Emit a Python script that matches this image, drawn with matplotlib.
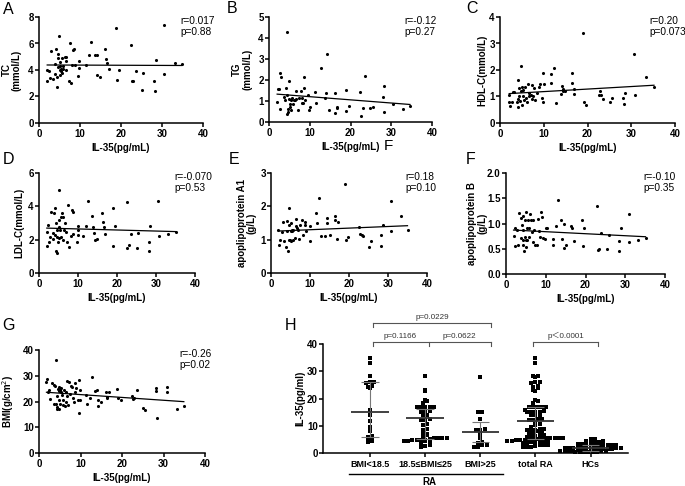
import numpy as np
import matplotlib
matplotlib.use("Agg")
import matplotlib.pyplot as plt

plt.rcParams['font.family'] = ['Liberation Sans', 'DejaVu Sans', 'Noto Sans CJK SC']

# ---------------- data ----------------
A_x = [2.0,2.0,2.4,2.9,2.7,3.5,3.9,4.1,3.9,4.3,4.5,4.7,4.7,4.9,5.0,5.1,5.2,5.3,5.5,5.7,5.9,6.3,6.6,6.7,6.7,7.2,7.6,7.7,8.0,8.4,8.5,8.8,9.6,9.7,9.8,11.5,12.3,12.7,13.7,14.1,14.2,14.9,16.2,16.3,16.7,17.0,18.9,19.1,19.5,22.4,22.7,23.0,23.6,25.0,25.4,28.0,28.2,28.5,30.5,30.6,33.2,34.8,4.6,5.0,5.4,5.8]
A_y = [4.0,3.2,3.9,5.45,3.4,3.3,4.45,5.6,3.7,2.75,3.5,5.2,4.9,6.6,4.0,4.3,4.6,4.1,4.9,3.8,4.3,5.0,4.95,4.7,4.0,3.2,6.0,3.05,4.4,5.5,5.6,4.35,3.55,4.15,4.7,4.4,5.15,6.1,5.15,5.1,3.65,3.5,5.6,4.8,4.55,4.1,7.2,3.25,3.97,5.85,3.15,3.15,3.95,2.5,3.8,3.2,2.4,4.75,7.4,3.7,4.5,4.45,4.2,3.6,3.9,4.1]

B_x = [2.0,2.2,2.5,2.8,3.0,2.8,3.7,3.9,4.1,4.3,4.3,4.5,4.7,4.7,4.8,4.9,5.1,5.2,5.3,5.5,5.7,5.9,6.1,6.3,6.6,6.7,7.0,7.3,7.8,8.0,8.1,8.4,8.5,8.5,8.8,9.6,9.9,10.0,11.4,11.5,12.7,13.7,14.0,14.3,14.7,16.2,16.2,16.7,16.8,18.9,19.0,19.6,22.3,22.6,23.0,23.6,24.8,25.4,27.9,28.1,28.3,30.5,33.0,34.6]
B_y = [0.93,1.55,1.55,2.35,2.12,0.64,1.2,1.07,1.6,1.28,0.4,4.28,0.48,0.64,1.09,1.97,0.88,0.72,0.56,1.04,1.12,0.88,1.04,1.07,1.09,1.49,0.59,1.15,1.49,0.91,1.12,0.91,2.12,1.6,1.07,1.28,0.56,0.72,1.41,0.91,2.57,1.15,1.36,3.24,0.59,1.39,0.43,0.72,0.67,1.52,0.53,0.75,1.44,0.27,0.69,2.2,0.69,0.72,1.17,0.48,1.71,0.85,0.61,0.75]

C_x = [2.1,2.1,2.3,2.7,2.9,3.3,3.8,4.0,4.2,4.2,4.3,4.4,4.6,4.7,4.8,5.0,5.0,5.2,5.3,5.5,5.7,5.9,6.1,6.3,6.6,6.7,7.1,7.2,7.4,7.6,7.8,8.0,8.4,8.8,9.1,9.7,9.9,9.9,10.1,11.6,11.7,12.4,12.8,13.9,14.1,14.3,14.5,14.9,16.4,16.4,16.8,17.0,19.0,19.2,19.7,22.6,22.9,23.0,23.6,25.1,25.7,28.2,28.3,28.6,30.7,30.9,33.3,35.2]
C_y = [1.06,0.78,0.65,0.81,1.16,1.16,0.78,0.9,1.62,0.62,1.31,1.0,0.84,1.19,2.16,1.35,0.69,1.0,1.25,0.88,1.35,0.94,0.81,1.48,1.0,1.12,1.06,1.44,0.9,1.0,1.31,0.88,1.12,1.35,1.48,0.94,0.81,1.88,1.48,1.85,1.5,2.06,0.75,1.09,1.4,1.28,1.22,1.19,1.88,1.52,1.09,1.28,3.38,0.81,0.69,1.06,1.19,1.04,0.9,0.81,0.94,0.94,0.71,1.15,2.6,1.04,1.73,1.35]

D_x = [2.0,2.0,2.2,2.6,2.8,3.1,3.5,3.7,3.9,4.1,4.1,4.4,4.4,4.5,4.5,4.7,4.8,5.0,5.0,5.1,5.2,5.4,5.6,5.6,5.8,6.1,6.2,6.4,6.7,6.9,7.1,7.5,7.7,8.1,8.4,8.6,8.8,9.7,9.9,10.1,10.1,11.4,12.0,12.6,13.5,13.9,14.2,14.4,14.8,16.1,16.3,16.7,16.9,19.1,19.1,19.5,22.5,22.6,23.1,23.6,25.0,25.5,28.2,28.3,28.5,30.6,30.8,33.2,35.0]
D_y = [1.63,2.48,2.88,1.89,2.15,3.68,2.43,2.03,3.58,3.88,2.29,3.02,1.35,1.23,2.15,2.58,1.89,4.97,3.18,2.78,2.09,2.58,3.38,2.19,3.62,3.34,1.99,2.58,2.98,2.48,1.89,4.08,1.55,2.23,3.78,2.33,3.68,1.89,2.82,2.58,2.29,2.23,2.82,4.33,3.42,2.78,2.39,1.99,2.03,3.58,3.08,2.78,2.35,3.88,1.63,2.82,4.27,1.49,1.69,2.35,1.49,2.43,1.85,1.3,2.85,4.33,2.2,2.35,2.45]

E_x = [1.9,2.1,2.3,2.7,3.2,3.4,3.8,4.0,4.2,4.3,4.5,4.6,4.7,4.9,5.0,5.1,5.1,5.3,5.5,5.7,5.7,6.2,6.3,6.4,6.6,6.9,7.2,7.5,7.9,8.3,8.6,8.7,9.0,9.9,10.0,11.6,11.7,12.4,12.8,13.9,14.3,14.3,15.2,16.4,16.4,16.9,17.1,19.0,19.3,19.7,22.6,22.9,23.3,23.6,25.2,25.7,28.3,28.3,28.6,30.7,30.8,33.3,35.0]
E_y = [1.3,0.85,0.98,1.22,1.52,0.97,0.78,1.55,1.25,0.65,1.45,1.0,1.95,1.0,1.27,1.5,0.95,1.28,1.25,1.0,1.3,1.05,1.62,1.4,1.35,1.3,1.03,1.45,1.58,1.15,1.52,1.45,1.25,0.95,1.42,1.8,1.5,2.25,1.12,1.12,1.65,1.5,1.13,1.72,1.58,1.03,1.52,2.68,0.98,1.07,1.37,1.18,1.15,1.1,0.78,0.95,1.15,0.82,1.45,2.15,1.25,1.7,1.3]

F_x = [1.9,2.2,2.3,2.8,3.0,3.3,3.8,3.8,4.0,4.2,4.3,4.4,4.4,4.6,4.7,4.9,5.0,5.0,5.1,5.3,5.4,5.5,5.7,5.9,6.1,6.2,6.5,6.7,6.8,7.1,7.4,7.8,8.0,8.4,8.6,8.8,9.0,9.2,9.9,10.0,10.3,11.7,11.8,12.6,13.1,13.9,14.2,14.5,14.5,15.1,16.4,16.7,17.2,19.1,19.3,19.7,22.8,23.1,23.4,23.9,25.4,25.8,28.5,28.5,28.9,31.0,31.0,33.3,35.1]
F_y = [0.75,0.56,0.91,0.87,0.58,1.2,1.1,0.71,0.97,0.87,0.68,1.15,0.58,0.46,0.73,1.07,1.22,0.68,0.54,0.91,0.68,1.07,0.74,0.91,1.19,1.06,0.84,1.06,0.63,0.87,0.58,0.58,1.09,0.86,0.73,1.22,1.13,0.71,0.69,0.91,0.91,0.69,0.58,0.96,1.47,1.06,0.7,0.99,0.51,0.58,0.96,0.91,0.66,1.06,0.56,0.92,1.35,0.48,0.49,0.81,0.49,0.77,0.66,0.46,0.91,1.19,0.64,0.68,0.71]

G_x = [1.8,2.0,2.1,2.5,2.7,3.1,3.5,3.6,3.9,4.0,4.1,4.3,4.3,4.4,4.5,4.7,4.7,4.8,4.9,5.1,5.1,5.2,5.3,5.5,5.7,5.9,6.1,6.3,6.4,6.5,6.7,6.8,7.1,7.3,7.5,7.7,7.9,8.1,8.4,8.7,8.7,8.9,9.5,9.6,9.7,9.9,9.9,11.3,11.5,12.3,12.7,13.5,13.9,14.1,14.1,14.9,16.1,16.3,16.5,16.9,18.9,19.1,19.7,22.3,22.6,23.0,23.7,25.0,25.5,28.1,28.2,28.5,30.8,30.8,33.2,34.9]
G_y = [27.4,28.6,23.5,24.3,20.9,27.1,26.5,19.1,26.1,19.1,36.1,22.2,17.8,17.0,24.8,20.6,17.0,25.5,23.9,24.3,19.1,25.2,23.5,22.6,20.4,18.7,24.5,18.3,20.0,23.5,28.1,22.2,18.7,27.4,23.0,26.1,25.8,21.3,20.0,27.1,23.5,25.2,20.6,15.5,28.4,24.5,20.6,22.6,19.1,21.3,29.4,23.9,24.3,20.6,18.3,20.0,23.5,21.7,21.3,23.5,24.8,21.3,20.4,22.2,20.9,21.3,24.3,17.4,16.8,25.2,23.9,13.5,25.5,23.5,17.0,18.3]

r_texts = ["r=0.017", "r=-0.12", "r=0.20", "r=-0.070", "r=0.18", "r=-0.10", "r=-0.26"]
p_texts = ["p=0.88", "p=0.27", "p=0.073", "p=0.53", "p=0.10", "p=0.35", "p=0.02"]
y_labels = ["TC\n(mmol/L)", "TG\n(mmol/L)", "HDL-C(mmol/L)", "LDL-C(mmol/L)",
            "apoplipoprotein A1\n(g/L)", "apoplipoprotein B\n(g/L)", "BMI(g/cm$^2$)"]
y_tick_values = [[0, 2, 4, 6, 8], [0, 1, 2, 3, 4, 5], [0, 1, 2, 3, 4], [0, 2, 4, 6],
                 [0, 1, 2, 3], [0.0, 0.5, 1.0, 1.5, 2.0], [0, 10, 20, 30, 40]]
x_ticks = [0, 10, 20, 30, 40]
x_label = "IL-35(pg/mL)"

# panel H
h_categories = ["BMI<18.5", "18.5≤BMI≤25", "BMI>25", "total RA", "HCs"]
bmi_low = [34.8,33.2,28.4,26.2,25.8,26.0,24.6,24.4,23.8,15.9,14.0,11.6,9.5,7.9,6.1,5.9,5.1,4.6,4.3,3.9]
bmi_mid = [28.3,23.2,22.8,19.5,19.1,18.5,16.8,16.8,16.8,17.0,16.7,16.8,15.2,15.5,15.2,14.0,13.8,12.2,12.4,12.2,
           10.6,10.4,8.8,8.5,7.1,6.7,7.1,5.5,5.5,5.9,5.5,5.5,5.2,4.3,4.3,4.9,4.6,4.9,4.5,4.9,4.5,3.0,2.4,2.1,3.7]
bmi_high = [28.0,15.2,14.9,12.4,8.9,8.5,8.3,7.9,6.7,5.5,3.9,3.7,3.0,2.8,2.2,2.2]
hcs = [5.3,5.0,4.5,4.3,4.0,3.8,3.6,3.5,3.3,3.2,3.0,3.0,2.8,2.8,2.6,2.5,2.5,2.3,2.2,2.1,2.0,2.0,1.9,1.8,1.7,
       1.6,1.5,1.5,1.4,1.3,1.2,1.1,1.0,1.0,0.9,0.8,0.8,0.7,0.6,0.6,0.5,0.5,0.4,0.3,0.3,0.2]
h_center = [15.2, 12.7, 7.8, 11.6, 1.8]
h_lower = [5.9, 5.2, 4.0, 5.0, 0.8]
h_upper = [26.0, 16.2, 11.3, 17.0, 2.9]
h_ticks = [0, 10, 20, 30, 40]
h_ylabel = "IL-35(pg/ml)"
p_top = "p=0.0229"
p_left = "p=0.1166"
p_right = "p=0.0622"
p_hc = "p\uff1c0.0001"
group_label = "RA"

# ---------------- figure ----------------
W, H = 685, 486
fig = plt.figure(figsize=(W / 100, H / 100), dpi=100)


def px_axes(l, t, r, b):
    return fig.add_axes([l / W, 1 - b / H, (r - l) / W, (b - t) / H])


def style(ax):
    for s in ["top", "right"]:
        ax.spines[s].set_visible(False)
    for s in ["left", "bottom"]:
        ax.spines[s].set_linewidth(1.1)
    ax.tick_params(direction="out", length=3, width=1.1, labelsize=7, pad=1.5)
    ax.tick_params(axis="y", pad=0.8)


def fmt(v):
    return ("%.1f" % v) if isinstance(v, float) else str(v)


xs_all = [A_x, B_x, C_x, D_x, E_x, F_x, G_x]
ys_all = [A_y, B_y, C_y, D_y, E_y, F_y, G_y]
rects = [(39, 17, 203, 123), (269, 17, 432, 122), (500, 17, 675, 123),
         (39, 173, 195, 273), (271, 173, 427, 273), (506, 173, 665, 274),
         (39, 350, 205, 453)]
ylab_x = [-0.105, -0.10, -0.075, -0.095, -0.09, -0.115, -0.14]
rp_pos = [(180, 16), (404, 16), (649, 16), (174, 172), (405, 172), (643, 172), (179, 349)]

for i in range(7):
    ax = px_axes(*rects[i])
    style(ax)
    x = np.array(xs_all[i]); y = np.array(ys_all[i])
    ax.scatter(x, y, s=5, c="black", marker="o", linewidths=0, zorder=3)
    coef = np.polyfit(x, y, 1)
    xx = np.array([x.min(), x.max()])
    ax.plot(xx, np.polyval(coef, xx), color="black", lw=0.9, zorder=2)
    yt = y_tick_values[i]
    ax.set_xlim(0, 40)
    ax.set_ylim(0, yt[-1])
    ax.set_xticks(x_ticks, [str(t) for t in x_ticks], fontweight="bold")
    ax.set_yticks(yt, [fmt(t) for t in yt], fontweight="bold")
    ax.set_xlabel(x_label, fontsize=7, fontweight="bold", labelpad=3)
    ax.set_ylabel(y_labels[i], fontsize=7, fontweight="bold", linespacing=1.05)
    ax.yaxis.set_label_coords(ylab_x[i], 0.5)
    px, py = rp_pos[i]
    fig.text(px / W, 1 - py / H, r_texts[i] + "\n" + p_texts[i], fontsize=7.3,
             va="top", ha="left", linespacing=1.1)

# ---------------- panel H ----------------
ax = px_axes(323, 344, 628, 453)
style(ax)
ax.set_xlim(-0.855, 4.68)
ax.set_ylim(0, 40)
groups = [bmi_low, bmi_mid, bmi_high, bmi_low + bmi_mid + bmi_high, hcs]


def row_offsets(vals, binsize=1.25, dx=0.078):
    vals = np.asarray(vals, dtype=float)
    keys = np.round(vals / binsize).astype(int)
    off = np.zeros(len(vals))
    for k in np.unique(keys):
        idx = np.where(keys == k)[0]
        idx = idx[np.argsort(vals[idx])]
        n = len(idx)
        off[idx] = (np.arange(n) - (n - 1) / 2) * dx
    return off


for gi, g in enumerate(groups):
    off = row_offsets(g)
    ax.scatter(gi + off, g, s=5, c="black", marker="s", linewidths=0, zorder=3)
    ax.vlines(gi, h_lower[gi], h_upper[gi], color="#777777", lw=0.8, zorder=4)
    ax.hlines([h_lower[gi], h_upper[gi]], gi - 0.16, gi + 0.16, color="#777777", lw=0.8, zorder=4)
    ax.hlines(h_center[gi], gi - 0.34, gi + 0.34, color="#333333", lw=1.3, zorder=5)

ax.set_xticks(range(len(h_categories)), h_categories, fontweight="bold", fontsize=6.5)
ax.set_yticks(h_ticks, [str(t) for t in h_ticks], fontweight="bold")
ax.tick_params(axis="x", pad=2)
ax.set_ylabel(h_ylabel, fontsize=7, fontweight="bold")
ax.yaxis.set_label_coords(-0.058, 0.5)


def bracket(xs, y, drop):
    ax.plot([xs[0], xs[-1]], [y, y], color="#555555", lw=0.8, clip_on=False)
    for xv in xs:
        ax.plot([xv, xv], [y, y - drop], color="#555555", lw=0.8, clip_on=False)


bracket([0.05, 2.2], 47.8, 1.4)
bracket([0.05, 1.06, 2.2], 40.6, 1.3)
bracket([2.95, 4.13], 40.6, 1.3)
kw = dict(fontsize=5.8, color="#333333", ha="center", va="bottom", clip_on=False)
ax.text(1.12, 48.6, p_top, **kw)
ax.text(0.55, 41.4, p_left, **kw)
ax.text(1.62, 41.4, p_right, **kw)
ax.text(3.55, 41.4, p_hc, **kw)

tr = ax.get_xaxis_transform()
ax.plot([-0.38, 2.41], [-0.193, -0.193], transform=tr, clip_on=False, color="black", lw=1.0)
ax.text(1.08, -0.27, group_label, transform=tr, ha="center", va="center",
        fontsize=7, fontweight="bold")

# ---------------- panel letters ----------------
letters = [("A", 3, 14), ("B", 227, 13), ("C", 466, 13), ("D", 3, 164), ("E", 229, 164),
           ("F", 466, 164), ("G", 2, 330), ("H", 285, 330)]
for t, lx, ly in letters:
    fig.text(lx / W, 1 - ly / H, t, fontsize=11.5, va="baseline", ha="left")
fig.text(384 / W, 1 - 150 / H, "F", fontsize=11, va="baseline", ha="left")

fig.savefig("out.png", dpi=100)
